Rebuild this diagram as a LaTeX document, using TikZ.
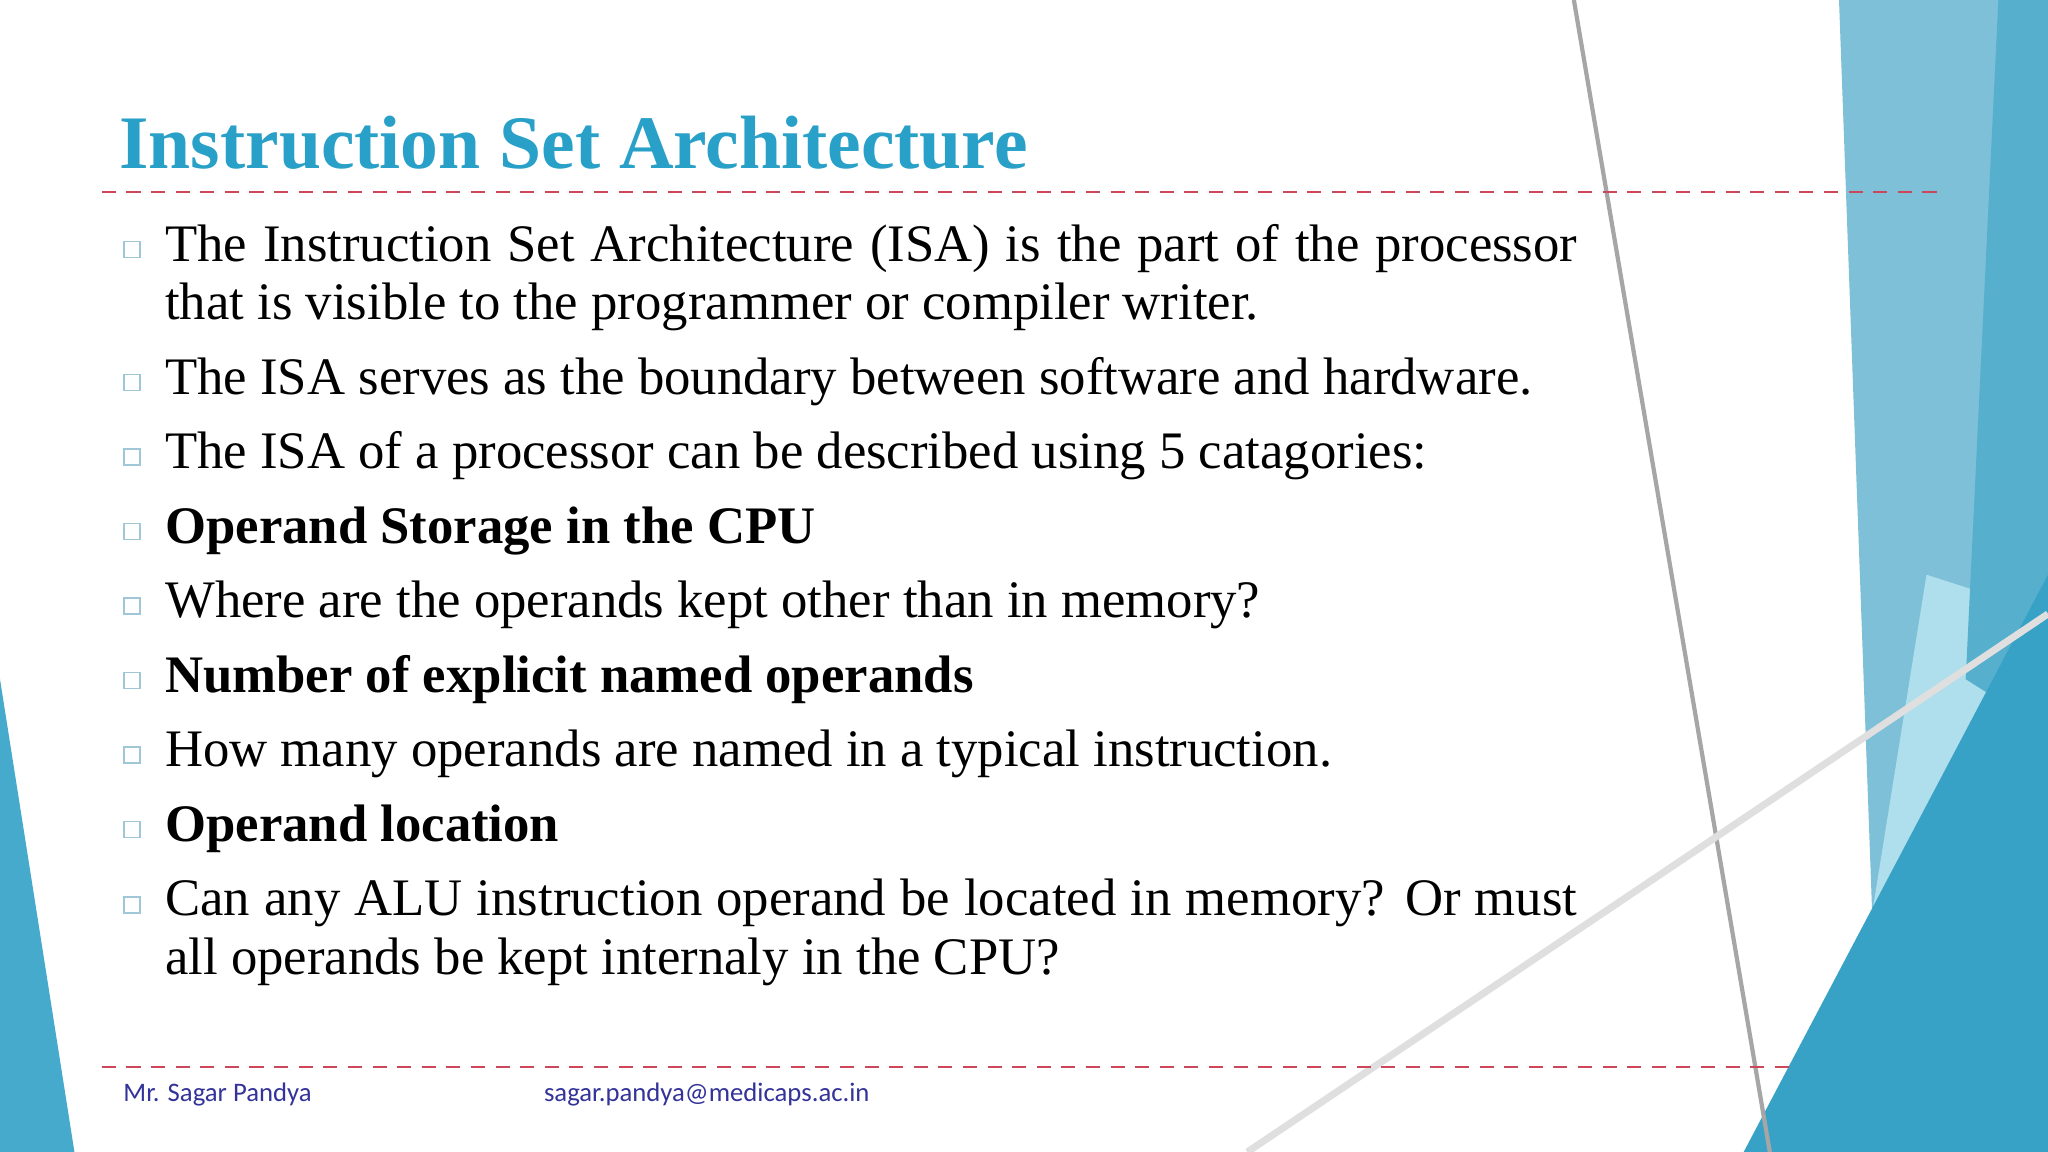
\documentclass[tikz,border=0pt]{standalone}
\usepackage{fontspec}
\setmainfont{Liberation Serif}
\newfontfamily\footfont{Carlito}
\begin{document}
\begin{tikzpicture}[x=0.013061cm,y=-0.013061cm,
  line/.style={anchor=base west,inner sep=0pt,font=\fontsize{15}{18}\selectfont},
  bul/.style={draw=cyan!45!gray!60,line width=0.4pt,minimum size=0.16cm,inner sep=0pt},
  foot/.style={anchor=base west,inner sep=0pt,text=blue!50!black!80,font=\footfont\fontsize{7.6}{9}\selectfont}]
\definecolor{ttl}{RGB}{40,160,200}
\definecolor{dashred}{RGB}{205,70,90}
\useasboundingbox (0,0) rectangle (1568,882);
\fill[white] (0,0) rectangle (1568,882);
% decorations
\fill[color={rgb,255:red,125;green,192;blue,215}] (1408,0) -- (1568,0) -- (1568,882) -- (1440,882) -- cycle;
\fill[color={rgb,255:red,175;green,222;blue,236}] (1475,440) -- (1568,470) -- (1430,720) -- cycle;
\fill[color={rgb,255:red,85;green,175;blue,205}] (1530,0) -- (1568,0) -- (1568,560) -- (1505,520) -- cycle;
\fill[color={rgb,255:red,55;green,162;blue,198}] (1335,882) -- (1568,440) -- (1568,882) -- cycle;
\fill[color={rgb,255:red,70;green,170;blue,205}] (0,520) -- (57,882) -- (0,882) -- cycle;
\draw[gray!70,line width=1.2pt] (1205,0) -- (1355,882);
\draw[gray!25,line width=2pt] (1568,470) -- (955,882);
% title
\node[anchor=base west,inner sep=0pt,text=ttl,font=\bfseries\fontsize{21.5}{26}\selectfont] (title) at (91,129) {Instruction Set Architecture};
\draw[dashred,line width=0.5pt,dash pattern=on 4pt off 3pt] (78,147) -- (1490,147);
\draw[dashred,line width=0.5pt,dash pattern=on 4pt off 3pt] (78,817) -- (1370,817);
% bullets
\foreach \y/\n in {191/b1,293/b2,350/b3,407/b4,464/b5,521/b6,578/b7,635/b8,693/b9}
  \node[bul] (\n) at (101,\y) {};
\node[line] (l1) at (126,200) {\makebox[14.12cm][s]{The Instruction Set Architecture (ISA) is the part of the processor}};
\node[line] (l1b) at (126,245) {that is visible to the programmer or compiler writer.};
\node[line] (l2) at (126,302) {The ISA serves as the boundary between software and hardware.};
\node[line] (l3) at (126,359) {The ISA of a processor can be described using 5 catagories:};
\node[line,font=\bfseries\fontsize{15}{18}\selectfont] (l4) at (126,416) {Operand Storage in the CPU};
\node[line] (l5) at (126,473) {Where are the operands kept other than in memory?};
\node[line,font=\bfseries\fontsize{15}{18}\selectfont] (l6) at (126,530) {Number of explicit named operands};
\node[line] (l7) at (126,587) {How many operands are named in a typical instruction.};
\node[line,font=\bfseries\fontsize{15}{18}\selectfont] (l8) at (126,644) {Operand location};
\node[line] (l9) at (126,701) {\makebox[14.12cm][s]{Can any ALU instruction operand be located in memory? Or must}};
\node[line] (l9b) at (126,746) {all operands be kept internaly in the CPU?};
% footer
\node[foot] (f1) at (94,843) {Mr. Sagar Pandya};
\node[foot] (f2) at (416,843) {sagar.pandya@medicaps.ac.in};
\end{tikzpicture}
\end{document}
